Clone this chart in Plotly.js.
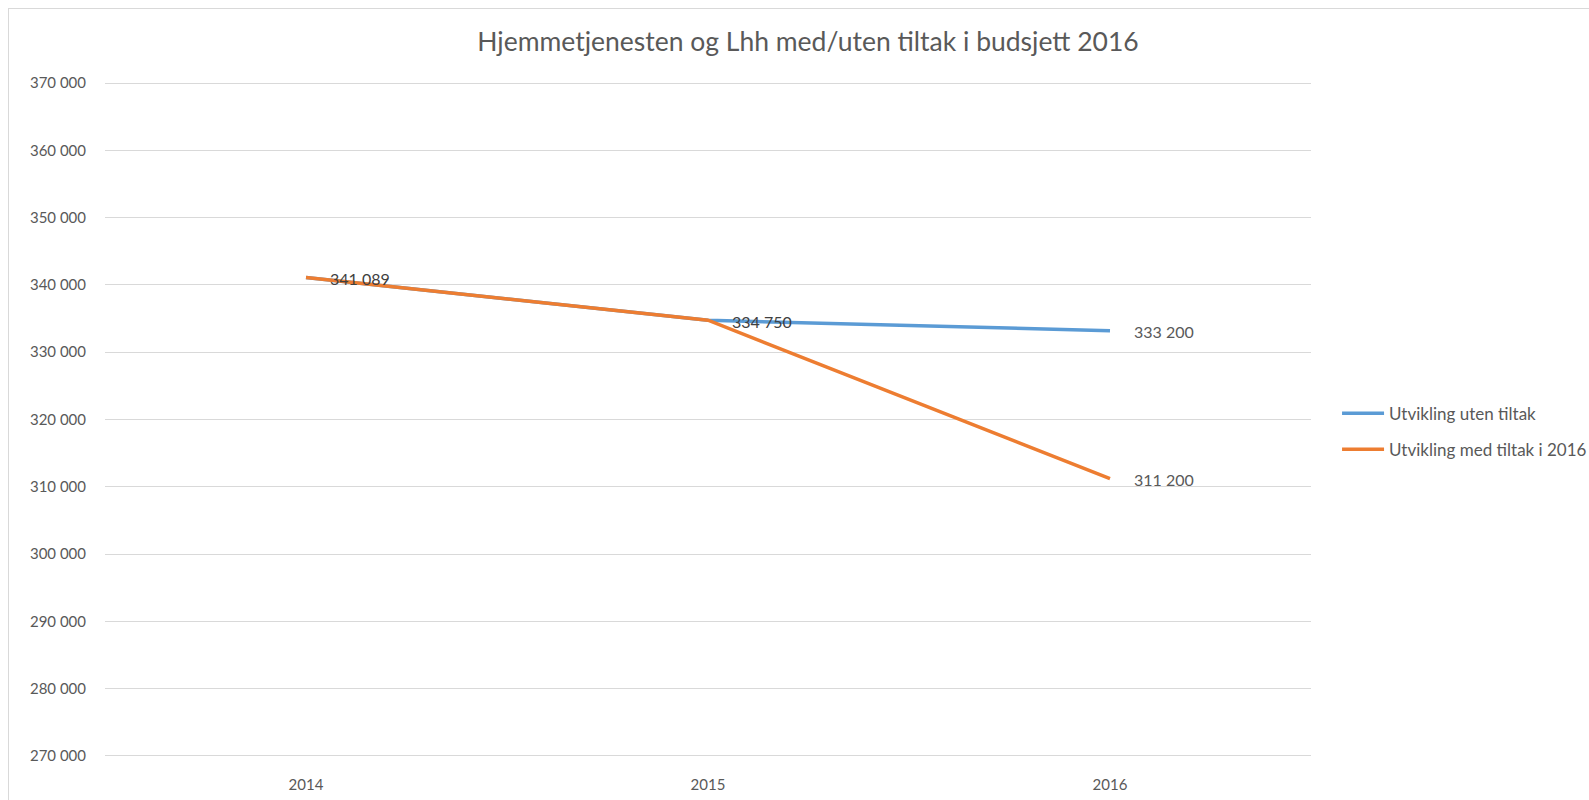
<!DOCTYPE html>
<html>
<head>
<meta charset="utf-8">
<script src="https://cdn.plot.ly/plotly-3.0.1.min.js"></script>
<style>
  html, body { margin: 0; padding: 0; background: #ffffff; }
  #wrap { position: relative; width: 1589px; height: 800px; }
  #chart { position: absolute; left: 0; top: 0; width: 1589px; height: 800px; }
  #frame { position: absolute; left: 8px; top: 8px; right: 0; bottom: 0;
           border-left: 1px solid #d9d9d9; border-top: 1px solid #d9d9d9; pointer-events: none; }
</style>
</head>
<body>
<div id="wrap">
  <div id="chart"></div>
  <div id="frame"></div>
</div>
<script>
const years = ["2014", "2015", "2016"];
const utenTiltak = [341089, 334750, 333200];
const medTiltak = [341089, 334750, 311200];
const seriesNames = ["Utvikling uten tiltak", "Utvikling med tiltak i 2016"];
const tickVals = [270000, 280000, 290000, 300000, 310000, 320000, 330000, 340000, 350000, 360000, 370000];

function fmt(v) {
  return String(v).replace(/\B(?=(\d{3})+(?!\d))/g, " ");
}
const tickText = tickVals.map(fmt);

const font = "Lato, 'Open Sans', sans-serif";

const traces = [
  {
    x: years, y: utenTiltak, name: seriesNames[0], type: "scatter", mode: "lines",
    line: {color: "#5B9BD5", width: 3.5}, legendgroup: "a", hoverinfo: "x+y"
  },
  {
    x: years, y: medTiltak, name: seriesNames[1], type: "scatter", mode: "lines",
    line: {color: "#ED7D31", width: 3.5}, legendgroup: "b", hoverinfo: "x+y"
  }
];

// category axis: annotation x given as the category index
const annotations = [];
const labelColors = ["#404040", "#404040", "#595959"];
utenTiltak.forEach((v, i) => {
  annotations.push({x: i, y: v, xref: "x", yref: "y", text: fmt(v), showarrow: false, xanchor: "left",
    xshift: 22, yshift: -1, font: {family: font, size: 16, color: labelColors[i]}});
});
annotations.push({x: 2, y: medTiltak[2], xref: "x", yref: "y", text: fmt(medTiltak[2]), showarrow: false, xanchor: "left",
  xshift: 22, yshift: -1, font: {family: font, size: 16, color: "#595959"}});

const layout = {
  width: 1589, height: 800,
  paper_bgcolor: "rgba(0,0,0,0)", plot_bgcolor: "#ffffff",
  margin: {l: 105, r: 278, t: 81, b: 42, autoexpand: false},
  title: {text: "Hjemmetjenesten og Lhh med/uten tiltak i budsjett 2016",
    font: {family: font, size: 26.5, color: "#595959"}, x: 0.5085, xanchor: "center", y: 0.948, yanchor: "middle"},
  xaxis: {
    type: "category", range: [-0.5, 2.5], showgrid: false, zeroline: false, showline: false,
    ticks: "", ticklabelstandoff: 16, tickfont: {family: font, size: 15, color: "#595959"}
  },
  yaxis: {
    range: [269700, 370300], tickvals: tickVals, ticktext: tickText,
    showgrid: true, gridcolor: "#d9d9d9", gridwidth: 1, zeroline: false, showline: false,
    ticks: "", ticklabelstandoff: 18, tickfont: {family: font, size: 15, color: "#595959"}
  },
  showlegend: true,
  legend: {x: 1.0216, xanchor: "left", y: 0.482, yanchor: "middle", traceorder: "grouped",
    tracegroupgap: 11, itemwidth: 42, bgcolor: "rgba(0,0,0,0)",
    font: {family: font, size: 17, color: "#595959"}},
  annotations: annotations,
  hovermode: "closest"
};

Plotly.newPlot("chart", traces, layout, {displayModeBar: false});
</script>
</body>
</html>
